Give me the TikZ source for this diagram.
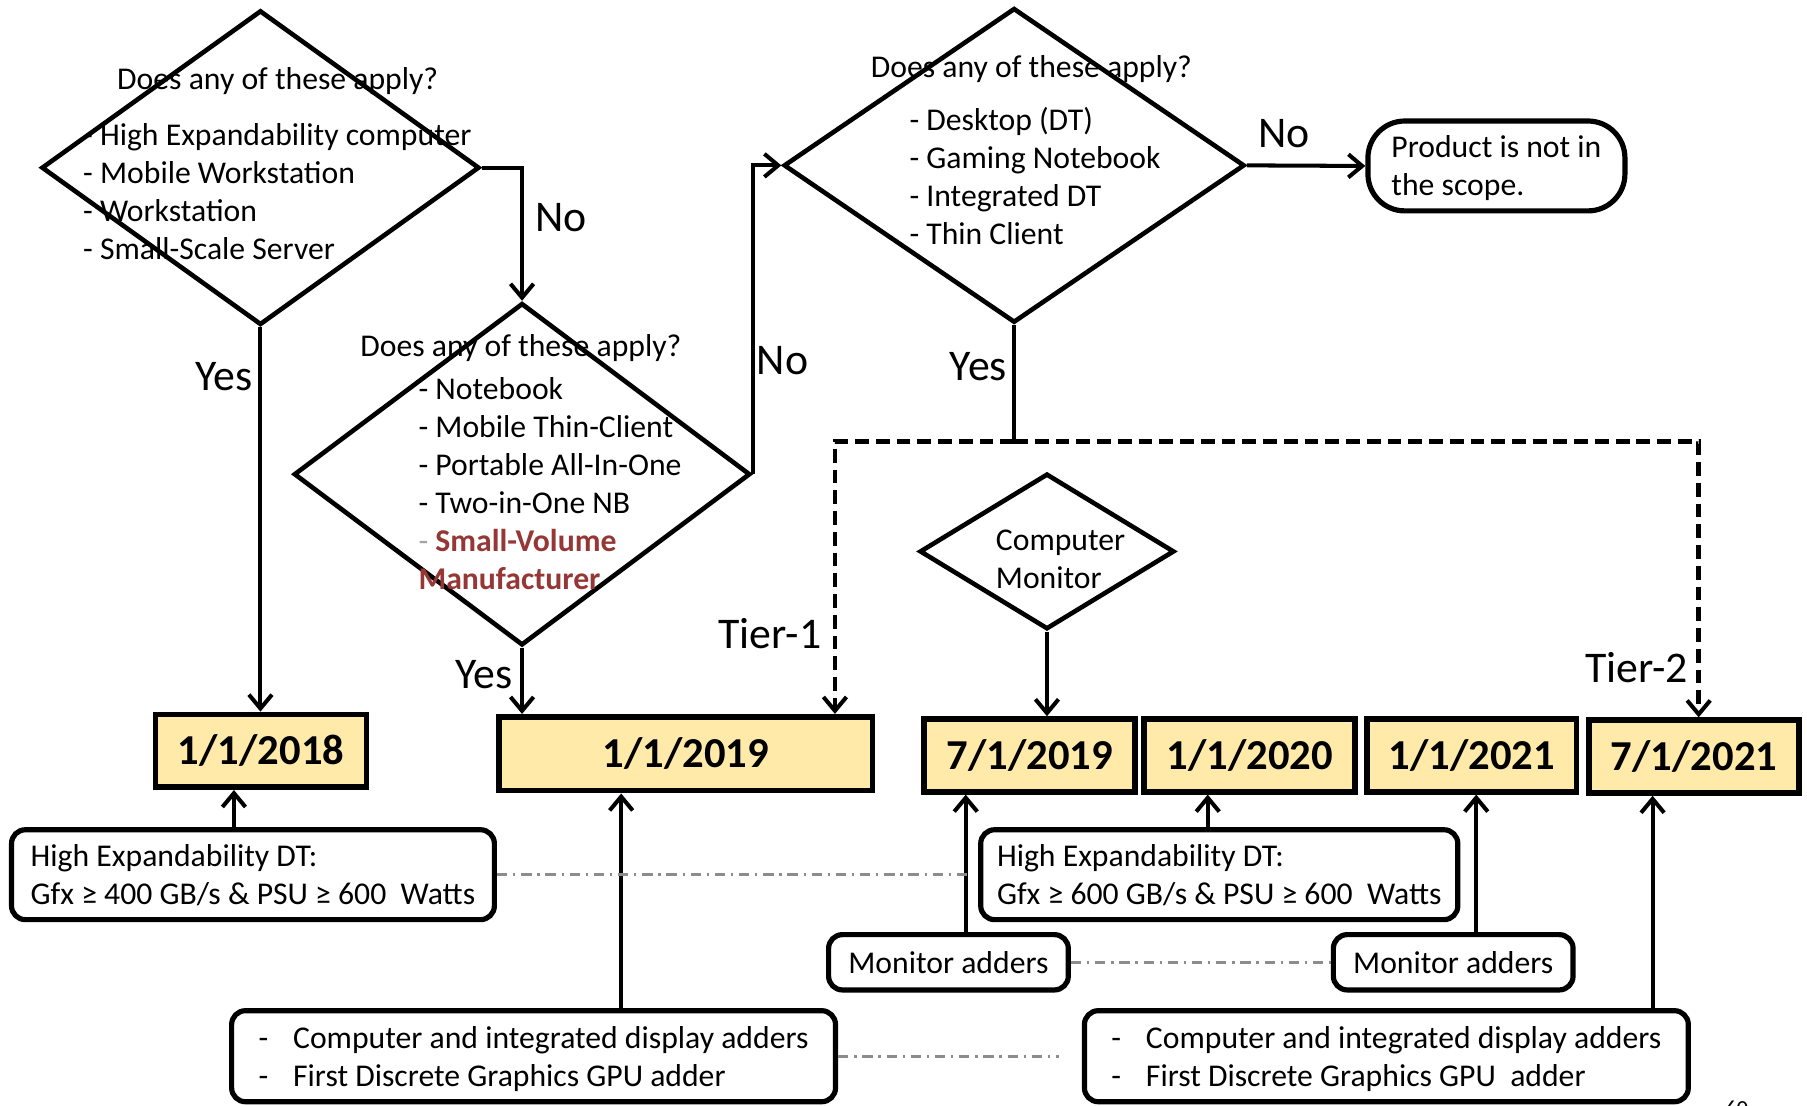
\documentclass[tikz,border=0pt]{standalone}
\usepackage{fontspec}
\setmainfont{Carlito}
\usetikzlibrary{arrows.meta,shapes.geometric}
\definecolor{datefill}{RGB}{255,234,170}
\definecolor{svred}{RGB}{149,55,53}
\definecolor{dashgray}{RGB}{165,165,165}
\definecolor{linkgray}{RGB}{140,140,140}

\begin{document}
\begin{tikzpicture}[x=1pt,y=-1pt,
    decision/.style={diamond,draw=black,line width=4pt,inner sep=0pt},
    datebox/.style={draw=black,line width=5pt,fill=datefill,minimum height=63pt,inner sep=0pt,font=\fontsize{37}{40}\selectfont\bfseries},
    notebox/.style={draw=black,line width=4.5pt,rounded corners=12pt,inner sep=0pt,text depth=0pt,align=left,font=\fontsize{27.5}{33}\selectfont},
    txt/.style={inner sep=0pt,align=left,font=\fontsize{27.5}{33}\selectfont},
    lbl/.style={inner sep=0pt,font=\fontsize{38}{40}\selectfont},
    arr/.style={line width=3.5pt,-{Straight Barb[length=12pt,width=20pt,line width=3.5pt]}},
    tier/.style={arr,line width=4pt,dash pattern=on 12pt off 6pt},
    link/.style={draw=linkgray,line width=2.5pt,dash pattern=on 9pt off 5pt on 2pt off 5pt}]
    \useasboundingbox (0,0) rectangle (1568,959);

    % questions
    \node[decision,minimum width=380pt,minimum height=273pt] (q1) at (226,145.5) {};
    \node[decision,minimum width=396pt,minimum height=297pt] (q2) at (453,411.5) {};
    \node[decision,minimum width=400pt,minimum height=273pt] (q3) at (880,143.5) {};
    \node[decision,minimum width=221pt,minimum height=135pt] (mon) at (908.5,478.5) {};

    \node[txt] (q1t) at (241,70) {Does any of these apply?};
    \node[txt,anchor=west] (q1l) at (72,166) {- High Expandability computer\\- Mobile Workstation\\- Workstation\\- Small-Scale Server};
    \node[txt] (q2t) at (452,302) {Does any of these apply?};
    \node[txt,anchor=west] (q2l) at (363,420) {- Notebook\\- Mobile Thin-Client\\- Portable All-In-One\\- Two-in-One NB\\{\color{dashgray}-} {\color{svred}\bfseries Small-Volume}\\{\color{svred}\bfseries Manufacturer}};
    \node[txt] (q3t) at (895,60) {Does any of these apply?};
    \node[txt,anchor=west] (q3l) at (789,153) {- Desktop (DT)\\- Gaming Notebook\\- Integrated DT\\- Thin Client};
    \node[txt,anchor=west] (mont) at (864,485) {Computer\\Monitor};

    \node[notebox,rounded corners=32pt,minimum width=223pt,minimum height=78pt] (scope) at (1298.5,144) {Product is not in\\the scope.};

    % dates
    \node[datebox,minimum width=183pt] (d2018) at (226.5,651.5) {1/1/2018};
    \node[datebox,minimum width=324pt,minimum height=64pt] (d2019) at (595,654) {1/1/2019};
    \node[datebox,minimum width=183pt] (d72019) at (893.5,655.5) {7/1/2019};
    \node[datebox,minimum width=183pt] (d2020) at (1084.5,655.5) {1/1/2020};
    \node[datebox,minimum width=182pt] (d2021) at (1277,655.5) {1/1/2021};
    \node[datebox,minimum width=182pt] (d72021) at (1470,656.5) {7/1/2021};

    % adders
    \node[notebox,minimum width=419pt,minimum height=78pt] (he1) at (219.5,759) {High Expandability DT:\\Gfx ≥ 400 GB/s \& PSU ≥ 600~ Watts};
    \node[notebox,minimum width=414pt,minimum height=78pt] (he2) at (1058,759) {High Expandability DT:\\Gfx ≥ 600 GB/s \& PSU ≥ 600~ Watts};
    \node[notebox,minimum width=208pt,minimum height=48pt] (mon1) at (823,835) {Monitor adders};
    \node[notebox,minimum width=208pt,minimum height=48pt] (mon2) at (1261,835) {Monitor adders};
    \node[notebox,minimum width=524pt,minimum height=79pt] (add1) at (463,916.5) {\makebox[30pt][l]{-}Computer and integrated display adders\\\makebox[30pt][l]{-}First Discrete Graphics GPU adder};
    \node[notebox,minimum width=524pt,minimum height=79pt] (add2) at (1203,916.5) {\makebox[30pt][l]{-}Computer and integrated display adders\\\makebox[30pt][l]{-}First Discrete Graphics GPU~ adder};

    % labels
    \node[lbl] (no1) at (487,189) {No};
    \node[lbl] (yes1) at (194,327) {Yes};
    \node[lbl] (no2) at (679,313) {No};
    \node[lbl] (yes2) at (420,585) {Yes};
    \node[lbl] (no3) at (1114,116) {No};
    \node[lbl] (yes3) at (849,318) {Yes};
    \node[lbl] (tier1) at (668,550) {Tier-1};
    \node[lbl] (tier2) at (1420,579) {Tier-2};
    \node[inner sep=0pt,anchor=north,font=\fontsize{20}{22}\selectfont] (page) at (1507,955) {60};

    % flow
    \draw[arr] (q1.east) -| (q2.north);
    \draw[arr] (q2.east) |- (q3.west);
    \draw[arr] (q3.east) -- (scope.west);
    \draw[arr] (q1.south) -- (q1.south |- d2018.north);
    \draw[arr] (q2.south) -- (q2.south |- d2019.north);
    \draw[arr] (mon.south) -- (mon.south |- d72019.north);

    \coordinate (split) at (880,383);
    \draw[line width=4pt] (q3.south) -- (split);
    \coordinate (t1) at ([xshift=-35pt]d2019.north east);
    \coordinate (t2) at ([xshift=4pt]d72021.north);
    \draw[tier] (split) -| (t1);
    \draw[tier] (split) -| (t2);

    \coordinate (a1) at ([xshift=-16.5pt]he1.north);
    \coordinate (a2) at ([xshift=-10pt]he2.north);
    \coordinate (a3) at ([xshift=15pt]mon1.north);
    \coordinate (a4) at ([xshift=20pt]mon2.north);
    \coordinate (a5) at ([xshift=76pt]add1.north);
    \coordinate (a6) at ([xshift=231pt]add2.north);
    \draw[arr] (a1) -- (a1 |- d2018.south);
    \draw[arr] (a2) -- (a2 |- d2020.south);
    \draw[arr] (a3) -- (a3 |- d72019.south);
    \draw[arr] (a4) -- (a4 |- d2021.south);
    \draw[arr] (a5) -- (a5 |- d2019.south);
    \draw[arr] (a6) -- (a6 |- d72021.south);

    % same level
    \draw[link] (he1.east) -- ([xshift=-7pt]he2.west);
    \draw[link] (mon1.east) -- (mon2.west);
    \draw[link] (add1.east) -- ([xshift=-20pt]add2.west);

\end{tikzpicture}
\end{document}
